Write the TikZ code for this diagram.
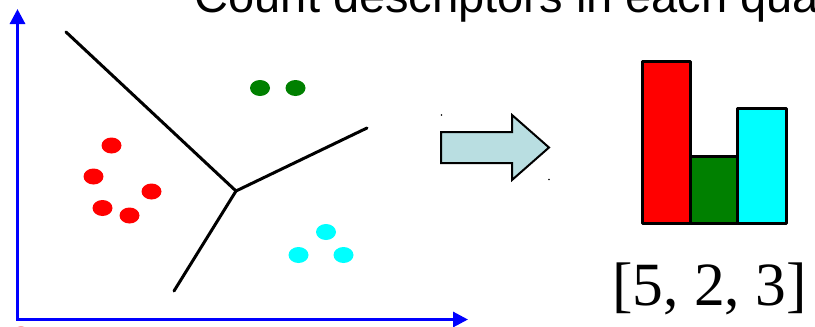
\documentclass[tikz,border=0pt]{standalone}
\usepackage{fontspec}
\setmainfont{Liberation Serif}
\newfontfamily\headfont{Liberation Sans}
\usetikzlibrary{arrows.meta,shapes.geometric}
\definecolor{featgreen}{RGB}{0,128,0}
\definecolor{featcyan}{RGB}{0,255,255}
\definecolor{arrowfill}{RGB}{185,222,225}

\begin{document}
\begin{tikzpicture}[x=1pt,y=-1pt,
  axis/.style={blue,line width=3pt},
  cut/.style={black,line width=3pt,line cap=round},
  feat/.style={ellipse,minimum width=20pt,minimum height=16pt,inner sep=0pt},
  bar/.style={draw=black,line width=3pt,line join=round,inner sep=0pt,outer sep=0pt,anchor=south west}]
\useasboundingbox (0,0) rectangle (815,327);

\node[anchor=base west,inner sep=0pt,font=\headfont\fontsize{47}{56}\selectfont] (title) at (194.5,12) {Count descriptors in each qua};

% axes
\coordinate (ytop) at (17.5,9);
\coordinate (orig) at (17.5,319.5);
\coordinate (xend) at (468,319.5);
\draw[axis,{Triangle[length=15pt,width=15pt]}-{Triangle[length=15pt,width=15pt]}] (ytop)--(orig)--(xend);

% cell borders
\coordinate (mid) at (236,191);
\coordinate (ul) at (66,32);
\coordinate (ur) at (367,128);
\coordinate (lo) at (174,291);
\draw[cut] (ul)--(mid);
\draw[cut] (ur)--(mid);
\draw[cut] (lo)--(mid);

% descriptors
\node[feat,fill=red] (r1) at (111.5,145.5) {};
\node[feat,fill=red] (r2) at (93.5,176.5) {};
\node[feat,fill=red] (r3) at (151.5,191.5) {};
\node[feat,fill=red] (r4) at (102.5,208) {};
\node[feat,fill=red] (r5) at (129.5,215.5) {};
\node[feat,fill=red] (r6) at (21,334.5) {};

\node[feat,fill=featgreen] (g1) at (260,88) {};
\node[feat,fill=featgreen] (g2) at (295.5,88) {};

\node[feat,fill=featcyan] (c1) at (326,232) {};
\node[feat,fill=featcyan] (c2) at (298.5,255) {};
\node[feat,fill=featcyan] (c3) at (343.5,255) {};

% arrow
\filldraw[fill=arrowfill,draw=black,line width=2pt,line join=miter]
  (441,132)--(512,132)--(512,115)--(549,147.5)--(512,180)--(512,163)--(441,163)--cycle;
\fill[black] (441.5,115) circle (0.9pt);
\fill[black] (549,179.5) circle (0.9pt);

% histogram
\node[bar,fill=red,minimum width=48pt,minimum height=162pt] (hred) at (642,223) {};
\node[bar,fill=featgreen,minimum width=47pt,minimum height=67pt] (hgreen) at (hred.south east) {};
\node[bar,fill=featcyan,minimum width=49pt,minimum height=115pt] (hcyan) at (hgreen.south east) {};

\node[anchor=base,inner sep=0pt,font=\fontsize{61.5}{70}\selectfont] (counts) at (709.5,305) {[5, 2, 3]};
\end{tikzpicture}
\end{document}
